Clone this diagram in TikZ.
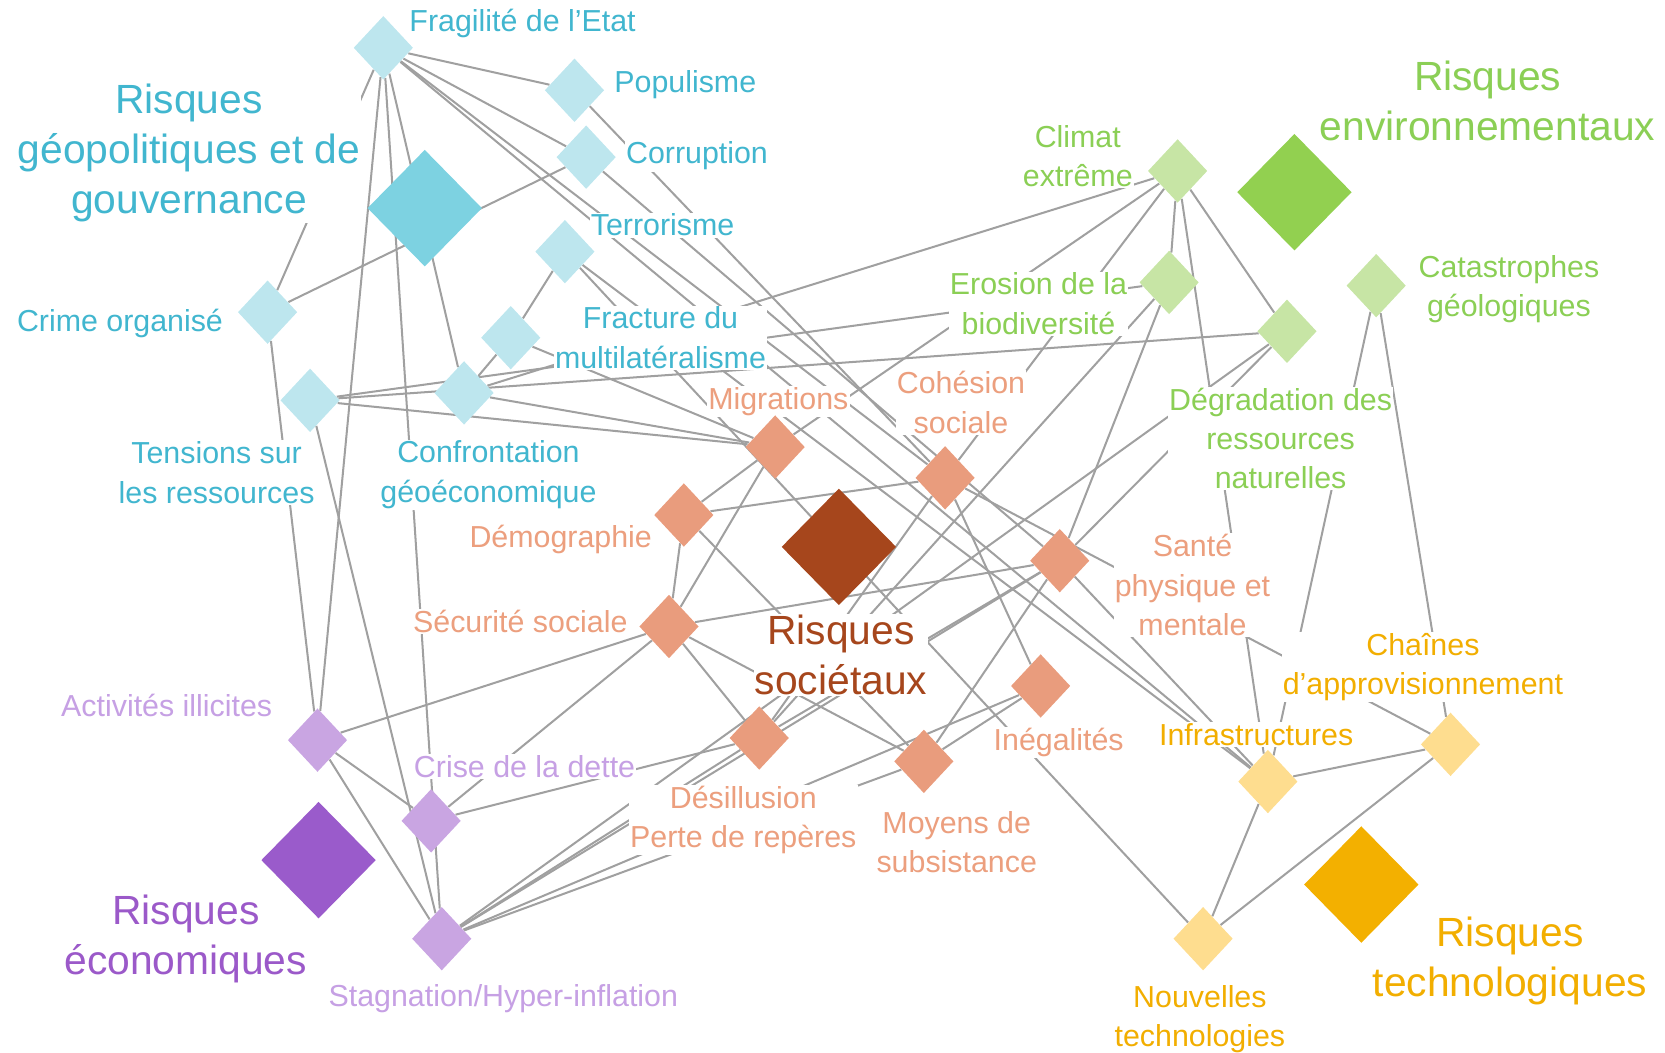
\documentclass[tikz,border=0pt]{standalone}
\usepackage{fontspec}
\setmainfont{Liberation Sans}
\usetikzlibrary{shapes.geometric}
\pgfdeclarelayer{bg}
\pgfsetlayers{bg,main}
\definecolor{geoT}{HTML}{41B6CF}
\definecolor{geoS}{HTML}{BDE6EE}
\definecolor{geoB}{HTML}{7DD2E1}
\definecolor{envT}{HTML}{8BCF55}
\definecolor{envS}{HTML}{C7E5A5}
\definecolor{envB}{HTML}{92D050}
\definecolor{socT}{HTML}{EC9F7E}
\definecolor{socS}{HTML}{E99C7D}
\definecolor{socB}{HTML}{A6461C}
\definecolor{ecoT}{HTML}{C6A0E4}
\definecolor{ecoL}{HTML}{9B59C9}
\definecolor{ecoS}{HTML}{C9A5E2}
\definecolor{ecoB}{HTML}{9A5BCB}
\definecolor{tecT}{HTML}{F2AE00}
\definecolor{tecS}{HTML}{FEDD8F}
\definecolor{tecB}{HTML}{F3B000}
\definecolor{edgeC}{HTML}{A0A0A0}
\begin{document}
\begin{tikzpicture}[x=0.5pt,y=-0.5pt,
  sd/.style={diamond,inner sep=0pt,minimum width=28pt,minimum height=30pt,draw=none},
  bd/.style={diamond,inner sep=0pt,minimum width=54pt,minimum height=55pt,draw=none},
  lab/.style={fill=white,inner sep=0.6pt,font=\fontsize{14.3}{18.5}\selectfont,align=center},
  biglab/.style={fill=white,inner sep=0.6pt,font=\fontsize{19.2}{23.5}\selectfont,align=center},
  link/.style={draw=edgeC,line width=0.95pt}]
\useasboundingbox (0,0) rectangle (1568,991);
% --- labels
\node[lab,text=geoT,anchor=west] (lF) at (384,22) {Fragilité de l’Etat};
\node[lab,text=geoT,anchor=west] (lP) at (577,80) {Populisme};
\node[lab,text=geoT,anchor=west] (lC) at (588,147) {Corruption};
\node[lab,text=geoT] (lT) at (624,212) {Terrorisme};
\node[biglab,text=geoT] (lG0) at (178,144) {Risques\\géopolitiques et de\\gouvernance};
\node[lab,text=geoT] (lCO) at (113,305) {Crime organisé};
\node[lab,text=geoT] (lFM) at (622,318) {Fracture du\\multilatéralisme};
\node[lab,text=geoT] (lTR) at (204,445) {Tensions sur\\les ressources};
\node[lab,text=geoT] (lCG) at (460,447) {Confrontation\\géoéconomique};
\node[lab,text=envT] (lCE) at (1015,147) {Climat\\extrême};
\node[biglab,text=envT] (lE0) at (1401,95) {Risques\\environnementaux};
\node[lab,text=envT] (lEB) at (978,286) {Erosion de la\\biodiversité};
\node[lab,text=envT] (lDR) at (1206,413) {Dégradation des\\ressources\\naturelles};
\node[lab,text=envT] (lCAT) at (1421,272) {Catastrophes\\géologiques};
\node[lab,text=socT] (lMI) at (733,378) {Migrations};
\node[lab,text=socT] (lCS) at (905,379) {Cohésion\\sociale};
\node[lab,text=socT] (lDE) at (528,508) {Démographie};
\node[biglab,text=socB] (lS0) at (792,617) {Risques\\sociétaux};
\node[lab,text=socT] (lSS) at (490,585) {Sécurité sociale};
\node[lab,text=socT] (lSA) at (1123,551) {Santé\\physique et\\mentale};
\node[lab,text=socT] (lIN) at (997,699) {Inégalités};
\node[lab,text=socT] (lDP) at (700,772) {Désillusion\\Perte de repères};
\node[lab,text=socT] (lMS) at (901,793) {Moyens de\\subsistance};
\node[lab,text=ecoT] (lAI) at (157,664) {Activités illicites};
\node[lab,text=ecoT] (lCD) at (494,722) {Crise de la dette};
\node[biglab,text=ecoL] (lEC0) at (175,884) {Risques\\économiques};
\node[lab,text=ecoT] (lSH) at (474,940) {Stagnation/Hyper-inflation};
\node[lab,text=tecT] (lIF) at (1183,692) {Infrastructures};
\node[lab,text=tecT] (lCH) at (1340,628) {Chaînes\\d’approvisionnement};
\node[lab,text=tecT] (lNT) at (1130,960) {Nouvelles\\technologies};
\node[biglab,text=tecT] (lTE0) at (1422,905) {Risques\\technologiques};
% --- geopolitical
\node[sd,fill=geoS] (F) at (361,45) {};
\node[sd,fill=geoS] (P) at (541,85) {};
\node[sd,fill=geoS] (C) at (552,148) {};
\node[sd,fill=geoS] (T) at (532,237) {};
\node[bd,fill=geoB] (G0) at (400,196) {};
\node[sd,fill=geoS] (CO) at (252,294) {};
\node[sd,fill=geoS] (FM) at (481,318) {};
\node[sd,fill=geoS] (TR) at (292,377) {};
\node[sd,fill=geoS] (CG) at (437,370) {};
% --- environmental
\node[sd,fill=envS] (CE) at (1109,161) {};
\node[bd,fill=envB] (E0) at (1219,181) {};
\node[sd,fill=envS] (EB) at (1101,266) {};
\node[sd,fill=envS] (DR) at (1212,312) {};
\node[sd,fill=envS] (CAT) at (1296,269) {};
% --- societal
\node[sd,fill=socS] (MI) at (730,421) {};
\node[sd,fill=socS] (CS) at (890,450) {};
\node[sd,fill=socS] (DE) at (644,485) {};
\node[bd,fill=socB] (S0) at (790,515) {};
\node[sd,fill=socS] (SS) at (630,590) {};
\node[sd,fill=socS] (SA) at (998,528) {};
\node[sd,fill=socS] (IN) at (980,646) {};
\node[sd,fill=socS] (DP) at (715,695) {};
\node[sd,fill=socS] (MS) at (870,717) {};
% --- economic
\node[sd,fill=ecoS] (AI) at (299,697) {};
\node[sd,fill=ecoS] (CD) at (406,773) {};
\node[bd,fill=ecoB] (EC0) at (300,810) {};
\node[sd,fill=ecoS] (SH) at (416,884) {};
% --- technological
\node[sd,fill=tecS] (IF) at (1194,736) {};
\node[sd,fill=tecS] (CH) at (1366,701) {};
\node[sd,fill=tecS] (NT) at (1133,884) {};
\node[bd,fill=tecB] (TE0) at (1282,833) {};
% --- connectors
\begin{pgfonlayer}{bg}
\foreach \a/\b in {F/P,F/C,F/CO,F/AI,F/SH,F/CG,F/IF,F/CS,CO/C,CO/AI,CG/FM,FM/T,CG/MI,FM/MI,CG/CE,
  TR/EB,TR/DR,TR/MI,TR/SH,T/IF,T/NT,P/CS,C/SA,
  CE/MI,CE/CS,CE/EB,CE/IF,CE/DR,EB/SA,EB/DP,DR/SA,DR/SH,CAT/IF,CAT/CH,
  DE/CS,DE/MI,DE/SS,DE/MS,MI/SS,SS/AI,SS/CD,SS/DP,SS/SA,SS/MS,CD/DP,CS/IN,CS/CH,CS/DP,
  SA/IF,SA/MS,SA/DP,SH/SA,SH/DP,SH/MS,SH/IN,MS/IN,AI/CD,AI/SH,
  IF/CH,IF/NT,NT/CH}
  \draw[link] (\a) -- (\b);
\end{pgfonlayer}
\end{tikzpicture}
\end{document}
